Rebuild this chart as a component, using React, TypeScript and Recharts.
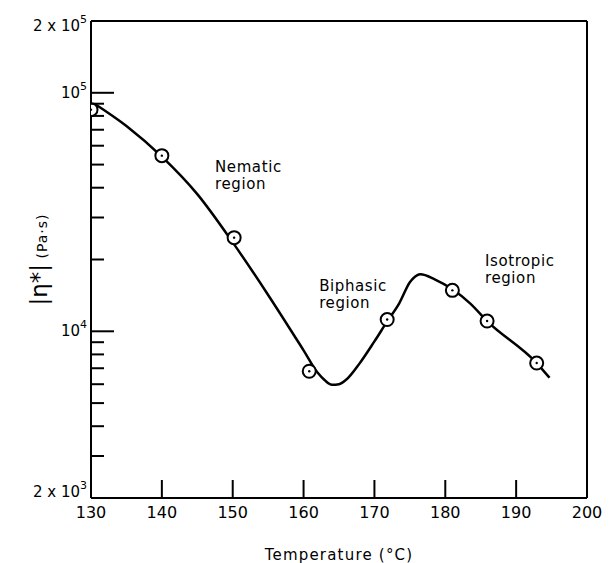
import React from 'react';
import {
  ComposedChart,
  Line,
  Scatter,
  XAxis,
  YAxis,
  ReferenceLine,
  ReferenceDot,
  Label,
} from 'recharts';

// measured points (temperature in °C, complex viscosity in Pa·s)
const pointTemps = [130, 140, 150.2, 160.8, 171.8, 181, 185.9, 192.9];
const pointViscosity = [85000, 54500, 24700, 6800, 11200, 14850, 11040, 7360];

// hand-drawn trend curve through the measurements
const curveTemps = [
  130.5, 135, 140, 145, 150, 155, 160, 162, 163, 164, 165, 166, 168, 170, 171.8,
  173.5, 175, 176, 176.5, 178.5, 181, 183.5, 185.9, 192.9, 194.7,
];
const curveViscosity = [
  90000, 72600, 54000, 37600, 23600, 14200, 8320, 6700, 6230, 5970, 6000, 6260,
  7400, 9070, 11000, 13100, 16050, 17170, 17340, 16520, 15000, 13100, 11040,
  7360, 6390,
];

const xTicks = [130, 140, 150, 160, 170, 180, 190, 200];
const yTicks = [
  2000, 3000, 4000, 5000, 6000, 7000, 8000, 9000, 10000, 20000, 30000, 40000,
  50000, 60000, 70000, 80000, 90000, 100000, 200000,
];
// labelled y ticks: [mantissa prefix, exponent]
const yTickLabels: Record<number, [string, string]> = {
  2000: ['2 x 10', '3'],
  10000: ['10', '4'],
  100000: ['10', '5'],
  200000: ['2 x 10', '5'],
};

const regionNotes = [
  { temp: 147.5, value: 46500, lines: ['Nematic', 'region'] },
  { temp: 162.2, value: 14700, lines: ['Biphasic', 'region'] },
  { temp: 185.6, value: 18700, lines: ['Isotropic', 'region'] },
];

const points = pointTemps.map((t, i) => ({ temp: t, eta: pointViscosity[i] }));
const curve = curveTemps.map((t, i) => ({ temp: t, eta: curveViscosity[i] }));

const FONT = '"DejaVu Sans", sans-serif';

const XTick = (props: any) => {
  const { x, y, payload } = props;
  const v = payload.value;
  const inner = v !== 130 && v !== 200;
  return (
    <g>
      {inner && <line x1={x} y1={y} x2={x} y2={y - 18} stroke="#000" strokeWidth={2} />}
      <text x={x} y={y + 20} textAnchor="middle" fontFamily={FONT} fontSize={16} fill="#000">
        {v}
      </text>
    </g>
  );
};

const YTick = (props: any) => {
  const { x, y, payload } = props;
  const v = payload.value;
  const lbl = yTickLabels[v];
  let len = 13;
  if (v === 10000 || v === 100000) len = 23;
  if (v === 2000 || v === 200000) len = 0;
  let dy = 5;
  if (v === 200000) dy = 10;
  if (v === 2000) dy = -1;
  return (
    <g>
      {len > 0 && <line x1={x} y1={y} x2={x + len} y2={y} stroke="#000" strokeWidth={2} />}
      {lbl && (
        <text x={x - 4} y={y + dy} textAnchor="end" fontFamily={FONT} fontSize={15} fill="#000">
          {lbl[0]}
          <tspan fontSize={11} dy={-8}>
            {lbl[1]}
          </tspan>
        </text>
      )}
    </g>
  );
};

const PointMarker = (props: any) => {
  const { cx, cy } = props;
  return (
    <g>
      <circle cx={cx} cy={cy} r={6.5} fill="#fff" stroke="#000" strokeWidth={2} />
      <circle cx={cx} cy={cy} r={1.2} fill="#000" />
    </g>
  );
};

const YTitle = (props: any) => {
  const { viewBox } = props;
  const cy = viewBox.y + viewBox.height / 2;
  const bx = 47;
  return (
    <text
      x={bx}
      y={cy}
      transform={`rotate(-90 ${bx} ${cy})`}
      textAnchor="middle"
      fontFamily={FONT}
      fill="#000"
    >
      <tspan fontSize={23}>|η*|</tspan>
      <tspan fontSize={14} letterSpacing={1}> (Pa·s)</tspan>
    </text>
  );
};

const XTitle = (props: any) => {
  const { viewBox } = props;
  return (
    <text
      x={viewBox.x + viewBox.width / 2}
      y={viewBox.y + viewBox.height - 3}
      textAnchor="middle"
      fontFamily={FONT}
      fontSize={15}
      letterSpacing={1.2}
      fill="#000"
    >
      Temperature (°C)
    </text>
  );
};

const noteShape = (lines: string[]) => (props: any) => {
  const { cx, cy } = props;
  return (
    <text x={cx} y={cy} fontFamily={FONT} fontSize={15} letterSpacing={0.6} fill="#000">
      {lines.map((l, i) => (
        <tspan key={l} x={cx} dy={i === 0 ? 0 : 17}>
          {l}
        </tspan>
      ))}
    </text>
  );
};

export default function App() {
  return (
    <div style={{ position: 'absolute', left: 0, top: 0, background: '#fff' }}>
      <ComposedChart
        width={612}
        height={563}
        margin={{ top: 21, right: 25, bottom: 0, left: 0 }}
      >
        <XAxis
          dataKey="temp"
          type="number"
          domain={[130, 200]}
          ticks={xTicks}
          interval={0}
          height={65}
          tickSize={0}
          tickMargin={0}
          tick={<XTick />}
          axisLine={{ stroke: '#000', strokeWidth: 2 }}
          allowDataOverflow
        >
          <Label content={<XTitle />} />
        </XAxis>
        <YAxis
          dataKey="eta"
          type="number"
          scale="log"
          domain={[2000, 200000]}
          ticks={yTicks}
          interval={0}
          width={91}
          tickSize={0}
          tickMargin={0}
          tick={<YTick />}
          axisLine={{ stroke: '#000', strokeWidth: 2 }}
          allowDataOverflow
        >
          <Label content={<YTitle />} />
        </YAxis>
        <ReferenceLine y={200000} stroke="#000" strokeWidth={2} />
        <ReferenceLine x={200} stroke="#000" strokeWidth={2} />
        <Line
          data={curve}
          dataKey="eta"
          type="monotone"
          stroke="#000"
          strokeWidth={2.5}
          dot={false}
          activeDot={false}
          isAnimationActive={false}
        />
        <Scatter
          data={points}
          dataKey="eta"
          shape={<PointMarker />}
          isAnimationActive={false}
        />
        {regionNotes.map((n) => (
          <ReferenceDot
            key={n.lines[0]}
            x={n.temp}
            y={n.value}
            r={0}
            shape={noteShape(n.lines)}
          />
        ))}
      </ComposedChart>
    </div>
  );
}
